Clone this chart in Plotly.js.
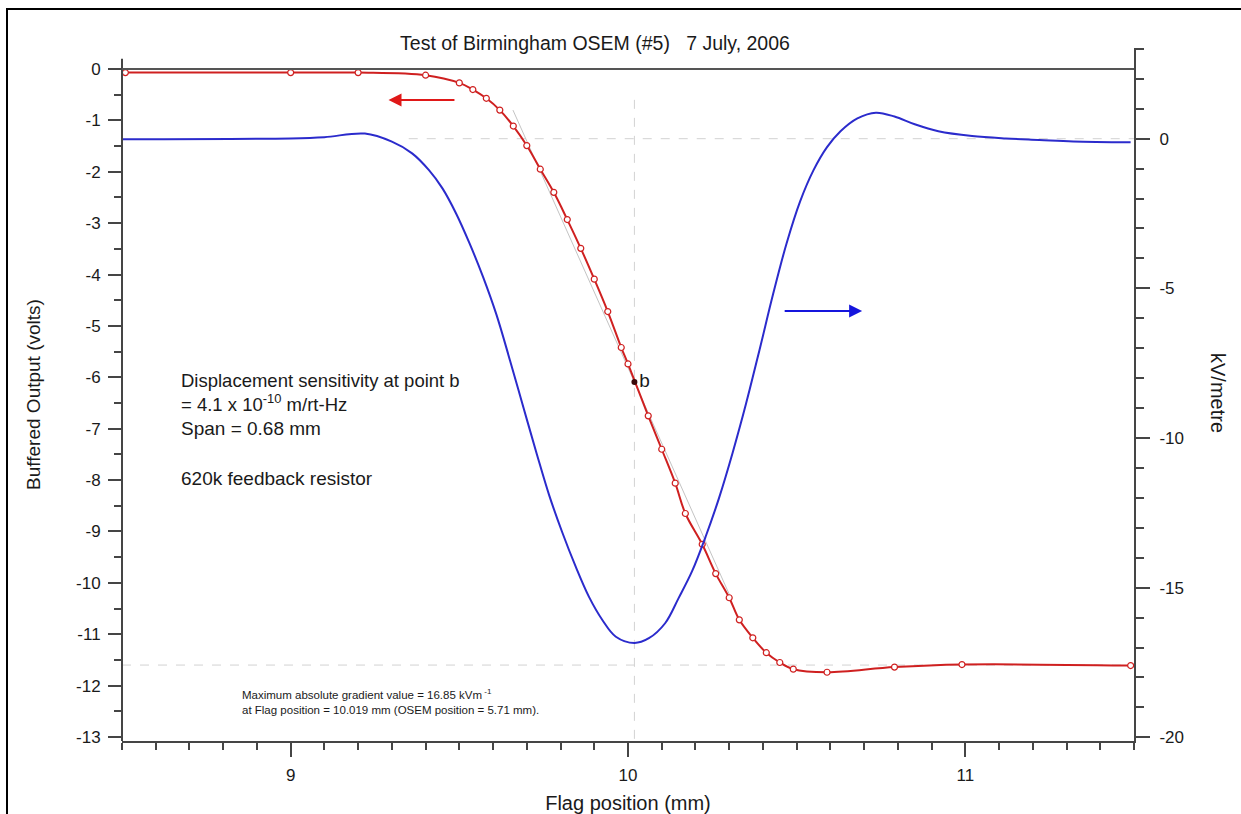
<!DOCTYPE html>
<html>
<head>
<meta charset="utf-8">
<script src="https://cdn.plot.ly/plotly-3.0.1.min.js"></script>
<style>html,body{margin:0;padding:0;background:#fff;}#chart{width:1241px;height:814px;}</style>
</head>
<body>
<div id="chart"></div>
<script>
// Red series: buffered output (volts), left axis — measured points
const xRed = [8.51, 9.00, 9.20, 9.40, 9.50, 9.54, 9.58, 9.62, 9.66, 9.70, 9.74, 9.78, 9.82, 9.86, 9.90, 9.94, 9.98, 10.00, 10.06, 10.10, 10.14, 10.17, 10.22, 10.26, 10.30, 10.33, 10.37, 10.41, 10.45, 10.49, 10.59, 10.79, 10.99, 11.49];
const yRed = [-0.07, -0.07, -0.07, -0.12, -0.27, -0.40, -0.57, -0.80, -1.11, -1.49, -1.95, -2.40, -2.93, -3.49, -4.09, -4.72, -5.42, -5.74, -6.75, -7.40, -8.06, -8.65, -9.25, -9.82, -10.29, -10.72, -11.07, -11.36, -11.55, -11.68, -11.74, -11.64, -11.59, -11.61];

// Blue series: gradient (kV/metre), right axis
const xBlue = [8.50, 9.00, 9.10, 9.22, 9.30, 9.36, 9.41, 9.45, 9.49, 9.53, 9.57, 9.61, 9.65, 9.69, 9.73, 9.766, 9.805, 9.845, 9.884, 9.924, 9.964, 10.019, 10.062, 10.11, 10.15, 10.19, 10.23, 10.27, 10.31, 10.35, 10.39, 10.43, 10.47, 10.51, 10.55, 10.59, 10.63, 10.68, 10.735, 10.79, 10.85, 10.92, 11.02, 11.12, 11.22, 11.32, 11.49];
const yBlue = [-0.02, 0.01, 0.05, 0.17, -0.10, -0.49, -1.05, -1.66, -2.49, -3.49, -4.61, -5.88, -7.40, -8.98, -10.55, -11.90, -13.15, -14.30, -15.30, -16.08, -16.64, -16.85, -16.69, -16.19, -15.35, -14.45, -13.30, -12.00, -10.50, -8.85, -7.05, -5.20, -3.50, -2.10, -1.05, -0.28, 0.25, 0.68, 0.87, 0.74, 0.48, 0.25, 0.09, 0.01, -0.04, -0.09, -0.12];

// Point b and its tangent
const bX = [10.019];
const bY = [-6.09];
const bLabel = ['b'];
const tanX = [9.659, 10.30];
const tanY = [-0.80, -10.22];

// Tick labels
const xTickVals = [9, 10, 11];
const xTickText = ['9', '10', '11'];
const yTickVals = [0, -1, -2, -3, -4, -5, -6, -7, -8, -9, -10, -11, -12, -13];
const yTickText = ['0', '-1', '-2', '-3', '-4', '-5', '-6', '-7', '-8', '-9', '-10', '-11', '-12', '-13'];
const y2TickVals = [0, -5, -10, -15, -20];
const y2TickText = ['0', '-5', '-10', '-15', '-20'];

// Reference lines
const crossX = 10.019;
const crossYLeft = -11.6;

const FONT = 'Arial, "Liberation Sans", sans-serif';
const RED = '#cf2020';
const BLUE = '#2b2bcc';
const AX = '#454545';
const TXT = '#1a1a1a';

const traces = [
  {x: tanX, y: tanY, type: 'scatter', mode: 'lines', line: {color: '#c4c4c4', width: 1}, hoverinfo: 'skip', showlegend: false},
  {x: xBlue, y: yBlue, yaxis: 'y2', type: 'scatter', mode: 'lines', line: {color: BLUE, width: 2, shape: 'spline', smoothing: 1}, showlegend: false},
  {x: xRed, y: yRed, type: 'scatter', mode: 'lines+markers', line: {color: RED, width: 2, shape: 'spline', smoothing: 1},
   marker: {symbol: 'circle', size: 6, color: '#ffffff', line: {color: RED, width: 1.2}}, showlegend: false},
  {x: bX, y: bY, text: bLabel, type: 'scatter', mode: 'markers+text', textposition: 'middle right',
   marker: {size: 6, color: '#3a0a0a'}, textfont: {family: FONT, size: 19, color: TXT}, showlegend: false}
];

const W = 1241, H = 814, ML = 122, MR = 107, MT = 48, MB = 73;
const PW = W - ML - MR, PH = H - MT - MB;
const px = v => (v - ML) / PW;
const py = v => (H - MB - v) / PH;

const layout = {
  width: W, height: H,
  margin: {l: ML, r: MR, t: MT, b: MB, pad: 0},
  paper_bgcolor: '#ffffff', plot_bgcolor: '#ffffff',
  font: {family: FONT, color: TXT},
  showlegend: false,
  title: {text: 'Test of Birmingham OSEM (#5)\u00a0\u00a0\u00a07 July, 2006', font: {family: FONT, size: 19.5, color: TXT},
          xref: 'container', yref: 'container', x: 595 / W, y: 1 - 43 / H, xanchor: 'center', yanchor: 'middle'},
  xaxis: {
    range: [8.5, 11.5], showgrid: false, zeroline: false,
    showline: true, linecolor: AX, linewidth: 2,
    ticks: 'outside', ticklen: 14, tickwidth: 2, tickcolor: AX,
    tickmode: 'array', tickvals: xTickVals, ticktext: xTickText,
    minor: {tickmode: 'linear', tick0: 8.5, dtick: 0.1, ticks: 'outside', ticklen: 7, tickwidth: 2, tickcolor: AX, showgrid: false},
    tickfont: {family: FONT, size: 17, color: TXT},
    ticklabelstandoff: 4,
    title: {text: 'Flag position (mm)', font: {family: FONT, size: 20, color: TXT}, standoff: 13}
  },
  yaxis: {
    range: [-13.078, 0.409], showgrid: false, zeroline: false, showline: false,
    ticks: 'outside', ticklen: 13, tickwidth: 2, tickcolor: AX,
    tickmode: 'array', tickvals: yTickVals, ticktext: yTickText,
    minor: {tickmode: 'linear', tick0: 0, dtick: 0.5, ticks: 'outside', ticklen: 7, tickwidth: 2, tickcolor: AX, showgrid: false},
    tickfont: {family: FONT, size: 17, color: TXT},
    ticklabelstandoff: 4,
    title: {text: 'Buffered Output (volts)', font: {family: FONT, size: 19, color: TXT}, standoff: 30}
  },
  yaxis2: {
    overlaying: 'y', side: 'right', anchor: 'x',
    range: [-20.124, 3.03], showgrid: false, zeroline: false,
    showline: true, linecolor: AX, linewidth: 2,
    ticks: 'outside', ticklen: 14, tickwidth: 2, tickcolor: AX,
    tickmode: 'array', tickvals: y2TickVals, ticktext: y2TickText,
    minor: {tickmode: 'linear', tick0: 0, dtick: 1, ticks: 'outside', ticklen: 8, tickwidth: 2, tickcolor: AX, showgrid: false},
    tickfont: {family: FONT, size: 17, color: TXT},
    ticklabelstandoff: 6
  },
  shapes: [
    // outer frame
    {type: 'rect', xref: 'paper', yref: 'paper', x0: px(7), x1: px(1270), y0: py(840), y1: py(9), line: {color: '#000', width: 2}, fillcolor: 'rgba(0,0,0,0)'},
    // left axis line
    {type: 'line', xref: 'paper', yref: 'y', x0: 0, x1: 0, y0: -13.078, y1: 0.2, line: {color: AX, width: 2}},
    // zero line of left axis
    {type: 'line', xref: 'paper', yref: 'y', x0: 0, x1: 1, y0: 0, y1: 0, line: {color: '#555', width: 2}},
    // crosshair lines
    {type: 'line', xref: 'x', yref: 'y', x0: crossX, x1: crossX, y0: -0.6, y1: -13.078, layer: 'below', line: {color: '#d2d2d2', width: 1, dash: 'dash'}},
    {type: 'line', xref: 'x', yref: 'y2', x0: 9.35, x1: 11.5, y0: 0, y1: 0, layer: 'below', line: {color: '#d2d2d2', width: 1, dash: 'dash'}},
    {type: 'line', xref: 'paper', yref: 'y', x0: 0, x1: 1, y0: crossYLeft, y1: crossYLeft, layer: 'below', line: {color: '#d2d2d2', width: 1, dash: 'dash'}}
  ],
  annotations: [
    // arrows
    {xref: 'x', yref: 'y', axref: 'x', ayref: 'y', x: 9.29, y: -0.603, ax: 9.49, ay: -0.603, text: '', showarrow: true,
     arrowhead: 2, arrowsize: 1.3, arrowwidth: 2, arrowcolor: '#e01818'},
    {xref: 'x', yref: 'y2', axref: 'x', ayref: 'y2', x: 10.694, y: -5.757, ax: 10.46, ay: -5.757, text: '', showarrow: true,
     arrowhead: 2, arrowsize: 1.3, arrowwidth: 2, arrowcolor: '#1515dd'},
    // text notes
    {xref: 'x', yref: 'y', x: 8.668, y: -6.29, xanchor: 'left', yanchor: 'middle', align: 'left', showarrow: false,
     text: 'Displacement sensitivity at point b<br>= 4.1 x 10<sup>-10</sup> m/rt-Hz', font: {family: FONT, size: 18.5, color: TXT}},
    {xref: 'x', yref: 'y', x: 8.668, y: -6.99, xanchor: 'left', yanchor: 'middle', showarrow: false,
     text: 'Span = 0.68 mm', font: {family: FONT, size: 19, color: TXT}},
    {xref: 'x', yref: 'y', x: 8.668, y: -7.96, xanchor: 'left', yanchor: 'middle', showarrow: false,
     text: '620k feedback resistor', font: {family: FONT, size: 19, color: TXT}},
    {xref: 'x', yref: 'y', x: 8.850, y: -12.30, xanchor: 'left', yanchor: 'middle', align: 'left', showarrow: false,
     text: 'Maximum absolute gradient value = 16.85 kVm<sup> -1</sup><br>at Flag position = 10.019 mm (OSEM position = 5.71 mm).', font: {family: FONT, size: 11.5, color: TXT}},
    // right axis title
    {xref: 'paper', yref: 'paper', x: px(1218), y: py(393), xanchor: 'center', yanchor: 'middle', showarrow: false,
     textangle: 90, text: 'kV/metre', font: {family: FONT, size: 20, color: TXT}}
  ]
};

Plotly.newPlot('chart', traces, layout, {displayModeBar: false, staticPlot: true});
</script>
</body>
</html>
